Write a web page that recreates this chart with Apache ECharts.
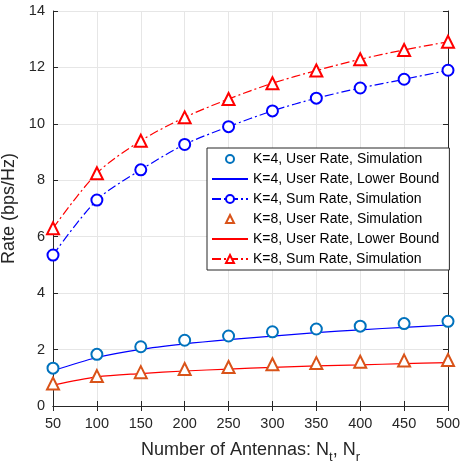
<!DOCTYPE html>
<html><head><meta charset="utf-8">
<script src="https://cdn.jsdelivr.net/npm/echarts@6/dist/echarts.min.js"></script>
<style>html,body{margin:0;padding:0;background:#fff}#c{width:461px;height:464px}</style>
</head><body><div id="c"></div>
<script>
const antennas = [50,100,150,200,250,300,350,400,450,500];
const k4UserSim = [1.34,1.83,2.10,2.33,2.48,2.63,2.73,2.83,2.92,3.00];
const k4UserLB = [1.25,1.72,2.01,2.20,2.35,2.48,2.60,2.70,2.79,2.87];
const k4SumSim = [5.35,7.30,8.37,9.27,9.90,10.46,10.91,11.27,11.58,11.90];
const k8UserSim = [0.80,1.06,1.20,1.31,1.38,1.48,1.52,1.57,1.61,1.63];
const k8UserLB = [0.74,1.03,1.15,1.24,1.31,1.37,1.42,1.46,1.50,1.54];
const k8SumSim = [6.30,8.25,9.40,10.23,10.88,11.44,11.89,12.29,12.62,12.91];
const yTicks = [0,2,4,6,8,10,12,14];
const names = ['K=4, User Rate, Simulation','K=4, User Rate, Lower Bound','K=4, Sum Rate, Simulation','K=8, User Rate, Simulation','K=8, User Rate, Lower Bound','K=8, Sum Rate, Simulation'];

const pair = a => antennas.map((x,i)=>[x,a[i]]);
const font = 'Liberation Sans, Arial, Helvetica, sans-serif';
const dashdot = [9,3,2,3];
const chart = echarts.init(document.getElementById('c'));
const axisCommon = {
  axisLine:{lineStyle:{color:'#262626',width:1}},
  axisTick:{inside:true,length:5,lineStyle:{color:'#262626'}},
};
chart.setOption({
  animation:false,
  backgroundColor:'#fff',
  textStyle:{fontFamily:font},
  grid:{left:53,right:13,top:11,bottom:58,outerBoundsMode:'none',containLabel:false},
  xAxis:[{
    type:'value',min:50,max:500,interval:50,position:'bottom',
    ...axisCommon,
    axisLabel:{color:'#262626',fontSize:14.5,margin:10,fontFamily:font},
    splitLine:{show:true,lineStyle:{color:'#e6e6e6'}},
    name:'{a|Number of Antennas: N}{s|t}{a|, N}{s|r}',
    nameLocation:'middle',nameGap:30,
    nameTextStyle:{rich:{a:{fontSize:18,color:'#262626',fontFamily:font},s:{fontSize:13,color:'#262626',fontFamily:font,padding:[15,0,0,0]}}}
  },{
    type:'value',min:50,max:500,interval:50,position:'top',
    ...axisCommon,axisLabel:{show:false},splitLine:{show:false}
  }],
  yAxis:[{
    type:'value',min:0,max:14,interval:2,position:'left',
    ...axisCommon,
    axisLabel:{color:'#262626',fontSize:14.5,margin:8,fontFamily:font,formatter:v=>yTicks.includes(v)?String(v):''},
    splitLine:{show:true,lineStyle:{color:'#e6e6e6'}},
    name:'Rate (bps/Hz)',nameLocation:'middle',nameGap:28,
    nameTextStyle:{fontSize:18,color:'#262626',fontFamily:font}
  },{
    type:'value',min:0,max:14,interval:2,position:'right',
    ...axisCommon,axisLabel:{show:false},splitLine:{show:false}
  }],
  legend:{
    orient:'vertical',left:207,top:148,
    itemWidth:36,itemHeight:10,itemGap:6,
    padding:[4,10,4,4],
    backgroundColor:'#fff',borderColor:'#262626',borderWidth:1,
    textStyle:{fontSize:14,color:'#000',fontFamily:font},
    data:[
      {name:names[0]},
      {name:names[1],itemStyle:{opacity:0}},
      {name:names[2]},
      {name:names[3]},
      {name:names[4],itemStyle:{opacity:0}},
      {name:names[5]}
    ]
  },
  series:[
    {name:names[0],type:'line',data:pair(k4UserSim),symbol:'emptyCircle',symbolSize:11,
     lineStyle:{width:0},itemStyle:{color:'#0072BD',borderWidth:1.2},z:5},
    {name:names[1],type:'line',data:pair(k4UserLB),symbol:'none',smooth:0.3,
     lineStyle:{color:'#0000FF',width:1.2},itemStyle:{color:'#0000FF'}},
    {name:names[2],type:'line',data:pair(k4SumSim),symbol:'emptyCircle',symbolSize:11,smooth:0.3,
     lineStyle:{color:'#0000FF',width:1.2,type:dashdot},itemStyle:{color:'#0000FF',borderWidth:1.2}},
    {name:names[3],type:'line',data:pair(k8UserSim),symbol:'emptyTriangle',symbolSize:12,
     lineStyle:{width:0},itemStyle:{color:'#D95319',borderWidth:1.2},z:5},
    {name:names[4],type:'line',data:pair(k8UserLB),symbol:'none',smooth:0.3,
     lineStyle:{color:'#FF0000',width:1.2},itemStyle:{color:'#FF0000'}},
    {name:names[5],type:'line',data:pair(k8SumSim),symbol:'emptyTriangle',symbolSize:12,smooth:0.3,
     lineStyle:{color:'#FF0000',width:1.2,type:dashdot},itemStyle:{color:'#FF0000',borderWidth:1.2}}
  ]
});
</script></body></html>
